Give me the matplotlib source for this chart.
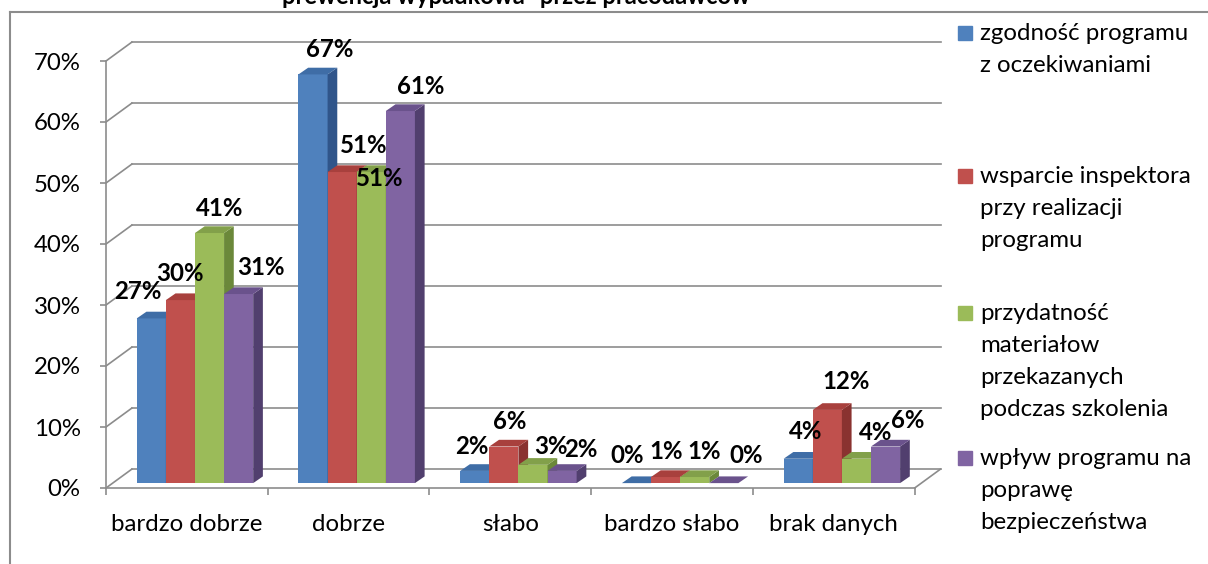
import matplotlib.pyplot as plt
from matplotlib.patches import Polygon, Rectangle
from matplotlib.lines import Line2D

# data
categories = ['bardzo dobrze', 'dobrze', 'słabo', 'bardzo słabo', 'brak danych']
series_names = ['zgodność programu\nz oczekiwaniami',
                'wsparcie inspektora\nprzy realizacji\nprogramu',
                'przydatność\nmateriałow\nprzekazanych\npodczas szkolenia',
                'wpływ programu na\npoprawę\nbezpieczeństwa']
zgodnosc = [27, 67, 2, 0, 4]
wsparcie = [30, 51, 6, 1, 12]
przydatnosc = [41, 51, 3, 1, 4]
wplyw = [31, 61, 2, 0, 6]
yticks = [0, 10, 20, 30, 40, 50, 60, 70]
title_line = 'prewencja wypadkowa" przez pracodawców'

series = [zgodnosc, wsparcie, przydatnosc, wplyw]

# styles
front = ['#4F81BD', '#C0504D', '#9BBB59', '#8064A2']
top = ['#3F6DA6', '#A8403D', '#82A04A', '#6A528C']
side = ['#30558A', '#8A3230', '#6B883A', '#513F6E']
grid_c = '#8C8C8C'
font = 'Lato'
fs = 17.3

# label offsets in pixels (x, y) relative to the top of each bar front
lab_dx = [[-13, 0, 10, 22], [17, 22, 8, 20], [-3, 6, 18, 19], [-9, 1, 9, 22], [7, 19, 19, 22]]
lab_dy = [[27, 27, 25, 27], [25, 27, -6, 25], [24, 25, 18, 21], [28, 26, 26, 28], [27, 28, 26, 26]]

# 3d geometry (data units)
DX, DY = 0.16, 3.1        # wall depth
ddx, ddy = 0.06, 1.1      # bar depth
b0 = 0.8                  # bar front baseline
g0, bw = 0.19, 0.18       # group start, bar width

plt.rcParams['font.family'] = [font, 'DejaVu Sans']

fig = plt.figure(figsize=(12.08, 5.64), dpi=100)
ax = fig.add_axes([106 / 1208, 76 / 564, 841 / 1208, 451.4 / 564])
ax.set_facecolor('none')
ax.set_xlim(0, 5.2)
ax.set_ylim(0, 74)

# back wall gridlines + connectors
for v in yticks:
    ax.plot([DX, 5 + DX], [v + DY, v + DY], color=grid_c, lw=1.2, zorder=1)
    ax.plot([0, DX], [v, v + DY], color=grid_c, lw=1.2, zorder=1)
ax.plot([5, 5 + DX], [0, DY], color=grid_c, lw=1.2, zorder=1)

z = 2
for i in range(len(categories)):
    for j, vals in enumerate(series):
        v = vals[i]
        x = i + g0 + j * bw
        ax.bar(x, v, width=bw, bottom=b0, align='edge', color=front[j],
               linewidth=0, zorder=z)
        ax.add_patch(Polygon([(x + bw, b0), (x + bw + ddx, b0 + ddy),
                              (x + bw + ddx, b0 + v + ddy), (x + bw, b0 + v)],
                             closed=True, color=side[j], lw=0, zorder=z))
        ax.add_patch(Polygon([(x, b0 + v), (x + ddx, b0 + v + ddy),
                              (x + bw + ddx, b0 + v + ddy), (x + bw, b0 + v)],
                             closed=True, color=top[j], lw=0, zorder=z))
        z += 1

for i in range(len(categories)):
    for j, vals in enumerate(series):
        v = vals[i]
        x = i + g0 + j * bw + bw / 2
        ax.annotate(f'{v}%', (x, b0 + v), xytext=(lab_dx[i][j], lab_dy[i][j]),
                    textcoords='offset pixels', ha='center', va='center',
                    fontsize=fs, fontweight='bold', zorder=100)

for s in ['top', 'right']:
    ax.spines[s].set_visible(False)
for s in ['left', 'bottom']:
    ax.spines[s].set_color(grid_c)
    ax.spines[s].set_linewidth(1.2)
ax.spines['left'].set_bounds(0, 70)
ax.spines['bottom'].set_bounds(0, 5)

ax.set_yticks(yticks)
ax.set_yticklabels([f'{t}%' for t in yticks])
ax.tick_params(axis='y', direction='out', length=4.3, width=1.2, color=grid_c,
               pad=14, labelsize=fs)
ax.set_xticks(range(len(categories) + 1))
ax.set_xticklabels([])
ax.set_xticks([i + 0.5 for i in range(len(categories))], minor=True)
ax.set_xticklabels(categories, minor=True)
ax.tick_params(axis='x', which='major', direction='out', length=5, width=1.2,
               color=grid_c)
ax.tick_params(axis='x', which='minor', length=0, pad=19, labelsize=fs)

# legend drawn by hand, Excel-style spacing
first_base = [40, 183, 320, 465]
for j, name in enumerate(series_names):
    yb = first_base[j]
    fig.patches.append(Rectangle((958 / 1208, 1 - (yb - 0.5) / 564), 14 / 1208, 14 / 564,
                                 transform=fig.transFigure, color=front[j]))
    for k, line in enumerate(name.split('\n')):
        fig.text(980 / 1208, 1 - (yb + 32 * k) / 564, line, ha='left',
                 va='baseline', fontsize=fs)

# cropped title line and chart frame
fig.text(516 / 1208, 1 - 4.5 / 564, title_line, ha='center', va='baseline',
         fontsize=17, fontweight='bold')
fig.add_artist(Line2D([10 / 1208, 1], [1 - 12 / 564, 1 - 12 / 564],
                      transform=fig.transFigure, color=grid_c, lw=1.5))
fig.add_artist(Line2D([10 / 1208, 10 / 1208], [0, 1 - 12 / 564],
                      transform=fig.transFigure, color=grid_c, lw=1.5))

fig.savefig('out.png', dpi=100)
